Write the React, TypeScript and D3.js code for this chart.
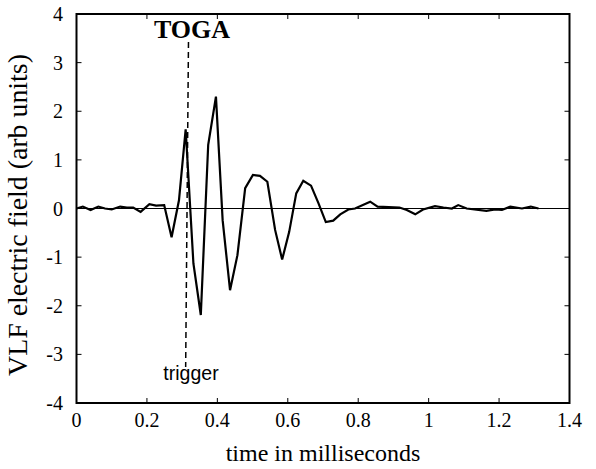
import React from "react";
import * as d3 from "d3";

const times = [0.0, 0.018, 0.04, 0.062, 0.081, 0.1, 0.124, 0.143, 0.161, 0.182, 0.207, 0.226, 0.249, 0.27, 0.291, 0.31, 0.332, 0.353, 0.374, 0.396, 0.415, 0.436, 0.457, 0.479, 0.501, 0.521, 0.542, 0.564, 0.584, 0.604, 0.624, 0.644, 0.666, 0.687, 0.708, 0.729, 0.749, 0.772, 0.791, 0.834, 0.855, 0.917, 0.938, 0.962, 0.984, 1.018, 1.042, 1.066, 1.084, 1.108, 1.164, 1.189, 1.208, 1.232, 1.265, 1.29, 1.312];
const field = [0.0, 0.04, -0.03, 0.04, 0.0, -0.02, 0.04, 0.02, 0.02, -0.07, 0.09, 0.06, 0.07, -0.59, 0.17, 1.63, -1.13, -2.19, 1.31, 2.3, -0.24, -1.68, -0.96, 0.42, 0.69, 0.67, 0.55, -0.44, -1.05, -0.48, 0.31, 0.57, 0.47, 0.11, -0.28, -0.25, -0.12, -0.02, 0.0, 0.14, 0.04, 0.02, -0.03, -0.12, -0.02, 0.05, 0.02, 0.0, 0.07, 0.0, -0.05, -0.02, -0.03, 0.04, 0.0, 0.04, 0.0];
const xTicks = [0, 0.2, 0.4, 0.6, 0.8, 1, 1.2, 1.4];
const yTicks = [-4, -3, -2, -1, 0, 1, 2, 3, 4];
const togaTop = { t: 0.318 };
const togaBottom = { t: 0.31 };

export default function App() {
  const W = 596, H = 469;
  const L = 76.5, R = 569.5, T = 14, B = 403;
  const x = d3.scaleLinear().domain([0, 1.4]).range([L, R]);
  const y = d3.scaleLinear().domain([-4, 4]).range([B, T]);
  const pts = times.map((t, i) => [t, field[i]] as [number, number]);
  const line = d3.line<[number, number]>().x(d => x(d[0])).y(d => y(d[1]));
  const serif = "'Liberation Serif', 'Times New Roman', serif";
  const tl = 5;
  return (
    <svg width={W} height={H} style={{ position: "absolute", left: 0, top: 0, background: "#fff" }}>
      <rect x={0} y={0} width={W} height={H} fill="#fff" />
      <line x1={L} x2={R} y1={y(0)} y2={y(0)} stroke="#000" strokeWidth={1} />
      {xTicks.map(t => (
        <g key={"x" + t}>
          <line x1={x(t)} x2={x(t)} y1={B} y2={B - tl} stroke="#000" strokeWidth={1} />
          <line x1={x(t)} x2={x(t)} y1={T} y2={T + tl} stroke="#000" strokeWidth={1} />
          <text x={x(t)} y={427} textAnchor="middle" fontFamily={serif} fontSize={20}>{t}</text>
        </g>
      ))}
      {yTicks.map(v => (
        <g key={"y" + v}>
          <line x1={L} x2={L + tl} y1={y(v)} y2={y(v)} stroke="#000" strokeWidth={1} />
          <line x1={R} x2={R - tl} y1={y(v)} y2={y(v)} stroke="#000" strokeWidth={1} />
          <text x={63} y={y(v) + 7} textAnchor="end" fontFamily={serif} fontSize={20}>{v}</text>
        </g>
      ))}
      <path d={line(pts) || ""} fill="none" stroke="#000" strokeWidth={2.2} strokeLinejoin="miter" />
      <rect x={L} y={T} width={R - L} height={B - T} fill="none" stroke="#000" strokeWidth={2} />
      <line x1={x(togaTop.t)} x2={x(togaBottom.t)} y1={42} y2={367} stroke="#000" strokeWidth={1.5} strokeDasharray="6,4" />
      <text x={192} y={38} textAnchor="middle" fontFamily={serif} fontWeight="bold" fontSize={26}>TOGA</text>
      <text x={191} y={380} textAnchor="middle" fontFamily="'Liberation Sans', Arial, sans-serif" fontSize={19.5}>trigger</text>
      <text x={323} y={461} textAnchor="middle" fontFamily={serif} fontSize={24}>time in milliseconds</text>
      <text transform={`translate(27,215) rotate(-90)`} textAnchor="middle" fontFamily={serif} fontSize={27} textLength={322} lengthAdjust="spacingAndGlyphs">VLF electric field (arb units)</text>
    </svg>
  );
}
